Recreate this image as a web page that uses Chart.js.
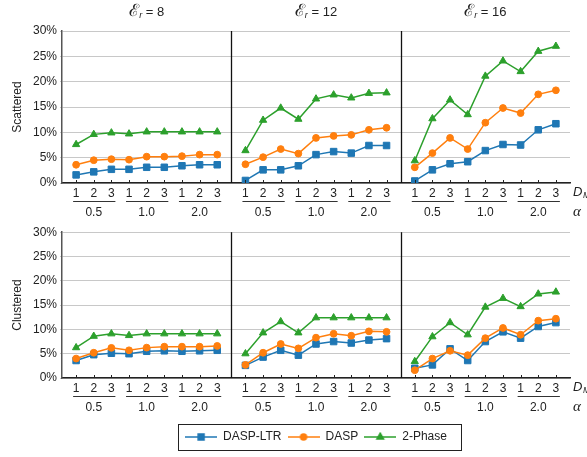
<!DOCTYPE html>
<html><head><meta charset="utf-8">
<script src="https://cdn.jsdelivr.net/npm/chart.js@4"></script>
<style>
html,body{margin:0;padding:0;background:#fff;}
#wrap{position:relative;width:587px;height:457px;overflow:hidden;}
.box{position:absolute;left:0;width:587px;}
</style></head><body>
<div id="wrap">
<div class="box" style="top:0;height:222px"><canvas id="cTop"></canvas></div>
<div class="box" style="top:222px;height:235px"><canvas id="cBot"></canvas></div>
</div>
<script>
// ---------- data ----------
const ER = [8, 12, 16];
const ALPHA = ['0.5', '1.0', '2.0'];
const DM = ['1', '2', '3'];
const Y_TICKS = [0, 5, 10, 15, 20, 25, 30];
const SERIES = ['DASP-LTR', 'DASP', '2-Phase'];
const ROWS = ['Scattered', 'Clustered'];

// values in %, one inner array per E_r panel (8, 12, 16), 9 points each (alpha x D_M)
const scatteredLTR = [
  [1.6, 2.2, 2.7, 2.7, 3.1, 3.1, 3.4, 3.6, 3.6],
  [0.5, 2.6, 2.6, 3.4, 5.6, 6.2, 5.9, 7.4, 7.4],
  [0.4, 2.6, 3.8, 4.2, 6.4, 7.6, 7.5, 10.5, 11.7]
];
const scatteredDASP = [
  [3.6, 4.5, 4.7, 4.6, 5.2, 5.2, 5.3, 5.6, 5.6],
  [3.7, 5.1, 6.7, 5.8, 8.9, 9.3, 9.5, 10.5, 10.9],
  [3.1, 5.9, 8.9, 6.7, 11.9, 14.8, 13.8, 17.5, 18.3]
];
const scattered2P = [
  [7.6, 9.6, 9.9, 9.7, 10.1, 10.1, 10.1, 10.1, 10.1],
  [6.4, 12.4, 14.8, 12.6, 16.6, 17.4, 16.8, 17.7, 17.8],
  [4.4, 12.7, 16.4, 13.5, 21.1, 24.1, 22.0, 26.0, 27.0]
];
const clusteredLTR = [
  [3.6, 4.8, 5.1, 5.0, 5.5, 5.6, 5.5, 5.6, 5.7],
  [2.6, 4.3, 5.7, 4.7, 7.0, 7.5, 7.2, 7.8, 8.1],
  [2.0, 2.7, 6.0, 3.6, 7.5, 9.5, 8.2, 10.6, 11.4]
];
const clusteredDASP = [
  [4.0, 5.2, 6.2, 5.7, 6.25, 6.45, 6.45, 6.45, 6.6],
  [2.7, 5.2, 7.0, 6.1, 8.3, 9.1, 8.7, 9.6, 9.5],
  [1.6, 4.0, 5.6, 4.7, 8.2, 10.3, 8.9, 11.8, 12.2]
];
const clustered2P = [
  [6.25, 8.6, 9.1, 8.75, 9.1, 9.1, 9.1, 9.1, 9.1],
  [5.0, 9.3, 11.6, 9.3, 12.4, 12.4, 12.4, 12.4, 12.4],
  [3.4, 8.5, 11.4, 8.9, 14.6, 16.4, 14.7, 17.3, 17.7]
];

// ---------- styling / layout ----------
const COLORS = ['#1f77b4', '#ff7f0e', '#2ca02c'];
const STYLES = ['rect', 'circle', 'triangle'];
const RADII = [4.6, 3.4, 4.2];
const FONT = "'Liberation Sans', Arial, 'DejaVu Sans', sans-serif";
const STEP = 9.6;          // panel width in x-units
const NPTS = ALPHA.length * DM.length;
const XPOS = [];
for (let k = 0; k < ER.length; k++) for (let i = 0; i < NPTS; i++) XPOS.push(k * STEP + i);

function toPoints(panels) {
  const pts = [];
  panels.forEach((vals, k) => {
    vals.forEach((v, i) => pts.push({ x: k * STEP + i, y: v }));
    if (k < panels.length - 1) pts.push({ x: k * STEP + 8.8, y: null });
  });
  return pts;
}

function makeDatasets(arrs) {
  return arrs.map((a, i) => ({
    label: SERIES[i],
    data: toPoints(a),
    borderColor: COLORS[i],
    backgroundColor: COLORS[i],
    pointStyle: STYLES[i],
    pointRadius: RADII[i],
    pointHoverRadius: RADII[i],
    pointBorderWidth: 1,
    borderWidth: 1.5,
    spanGaps: false,
    tension: 0,
    order: 2 - i
  }));
}

function legendImage(i) {
  const c = document.createElement('canvas');
  c.width = 32; c.height = 10;
  const g = c.getContext('2d');
  g.strokeStyle = COLORS[i]; g.fillStyle = COLORS[i]; g.lineWidth = 1.5;
  g.beginPath(); g.moveTo(0, 5); g.lineTo(32, 5); g.stroke();
  Chart.helpers.drawPoint(g, { pointStyle: STYLES[i], radius: RADII[i] - 0.4, borderWidth: 1 }, 16, 5);
  g.fill();
  return c;
}

const panelPlugin = {
  id: 'panels',
  beforeDatasetsDraw(chart, args, opts) {
    const { ctx, chartArea: a, scales: { x } } = chart;
    ctx.save();
    ctx.strokeStyle = '#111'; ctx.lineWidth = 1.3;
    for (let k = 1; k < ER.length; k++) {
      const px = Math.round(x.getPixelForValue(k * STEP - 0.8)) + 0.5;
      ctx.beginPath(); ctx.moveTo(px, a.top); ctx.lineTo(px, a.bottom); ctx.stroke();
    }
    ctx.restore();
  },
  afterDraw(chart, args, opts) {
    const { ctx, chartArea: a, scales: { x } } = chart;
    ctx.save();
    // inner tick marks
    ctx.strokeStyle = '#222'; ctx.lineWidth = 1;
    XPOS.forEach(v => {
      const px = Math.round(x.getPixelForValue(v)) + 0.5;
      ctx.beginPath(); ctx.moveTo(px, a.bottom); ctx.lineTo(px, a.bottom - 3); ctx.stroke();
    });
    // alpha groups
    ctx.fillStyle = '#222';
    ctx.font = '12px ' + FONT;
    ctx.textAlign = 'center'; ctx.textBaseline = 'middle';
    for (let k = 0; k < ER.length; k++) {
      ALPHA.forEach((al, j) => {
        const x0 = x.getPixelForValue(k * STEP + j * 3) - 3;
        const x1 = x.getPixelForValue(k * STEP + j * 3 + 2) + 4;
        ctx.strokeStyle = '#333'; ctx.lineWidth = 1.2;
        ctx.beginPath(); ctx.moveTo(x0, a.bottom + 18.5); ctx.lineTo(x1, a.bottom + 18.5); ctx.stroke();
        ctx.fillText(al, (x0 + x1) / 2 - 0.5, a.bottom + 29.5);
      });
    }
    // D_M and alpha axis names
    ctx.textAlign = 'left';
    ctx.font = 'italic 13px ' + FONT;
    ctx.fillText('D', 573, a.bottom + 9);
    ctx.font = 'italic 9px ' + FONT;
    ctx.fillText('M', 583, a.bottom + 12);
    ctx.font = 'italic 15px "Liberation Serif", "DejaVu Serif", serif';
    ctx.fillText('\u03B1', 573, a.bottom + 29);
    // row label
    ctx.save();
    ctx.translate(18, (a.top + a.bottom) / 2);
    ctx.rotate(-Math.PI / 2);
    ctx.textAlign = 'center';
    ctx.font = '12px ' + FONT;
    ctx.fillText(opts.rowLabel, 0, 0);
    ctx.restore();
    // panel titles
    if (opts.titles) {
      ctx.textBaseline = 'alphabetic';
      ER.forEach((er, k) => {
        const cx = (x.getPixelForValue(k * STEP - 0.8) + x.getPixelForValue(k * STEP + 8.8)) / 2;
        const f1 = '17px "DejaVu Serif", serif', f2 = 'italic 9px ' + FONT, f3 = '13px ' + FONT;
        const t3 = ' = ' + er;
        ctx.font = f1; const w1 = ctx.measureText('\u2130').width;
        ctx.font = f2; const w2 = ctx.measureText('r').width;
        ctx.font = f3; const w3 = ctx.measureText(t3).width;
        let sx = cx - (w1 + w2 + w3) / 2;
        ctx.font = f1; ctx.fillText('\u2130', sx, 16); sx += w1;
        ctx.font = f2; ctx.fillText('r', sx, 18); sx += w2;
        ctx.font = f3; ctx.fillText(t3, sx, 16);
      });
    }
    // legend frame
    if (opts.legendFrame && chart.legend && chart.legend.legendHitBoxes && chart.legend.legendHitBoxes.length) {
      const hb = chart.legend.legendHitBoxes;
      const l = hb[0].left - 7, r = hb[hb.length - 1].left + hb[hb.length - 1].width + 14;
      const cy = hb[0].top + hb[0].height / 2;
      ctx.strokeStyle = '#222'; ctx.lineWidth = 1;
      ctx.strokeRect(Math.round(l) + 0.5, Math.round(cy - 13) + 0.5, Math.round(r - l), 26);
    }
    ctx.restore();
  }
};

function makeChart(id, arrs, row, isBottom) {
  return new Chart(document.getElementById(id), {
    type: 'line',
    data: { datasets: makeDatasets(arrs) },
    plugins: [panelPlugin],
    options: {
      responsive: true,
      maintainAspectRatio: false,
      animation: false,
      events: [],
      layout: { padding: { left: 0, right: 17, top: isBottom ? 8 : 31, bottom: isBottom ? 4 : 0 } },
      plugins: {
        tooltip: { enabled: false },
        panels: { rowLabel: ROWS[row], titles: !isBottom, legendFrame: isBottom },
        legend: {
          display: isBottom,
          position: 'bottom',
          fullSize: false,
          labels: {
            usePointStyle: true,
            pointStyleWidth: 32,
            boxHeight: 12,
            padding: 6,
            color: '#222',
            font: { family: FONT, size: 12 },
            generateLabels: (ch) => ch.data.datasets.map((ds, i) => ({
              text: ds.label, pointStyle: legendImage(i), fillStyle: 'rgba(0,0,0,0)',
              strokeStyle: 'rgba(0,0,0,0)', lineWidth: 0, hidden: false, datasetIndex: i, fontColor: '#222'
            }))
          }
        }
      },
      scales: {
        x: {
          type: 'linear', min: -0.8, max: ER.length * STEP - 0.8,
          afterBuildTicks: s => { s.ticks = XPOS.map(v => ({ value: v })); },
          afterFit: s => { s.height = isBottom ? 47 : 39; },
          ticks: {
            autoSkip: false, maxRotation: 0, minRotation: 0, padding: 3,
            color: '#222', font: { family: FONT, size: 12 },
            callback: (v, i) => DM[i % DM.length]
          },
          grid: { display: false, drawTicks: false },
          border: { display: true, color: '#222', width: 1.5 }
        },
        y: {
          min: 0, max: 30,
          afterBuildTicks: s => { s.ticks = Y_TICKS.map(v => ({ value: v })); },
          afterFit: s => { s.width = 62; },
          ticks: { padding: 3, color: '#222', font: { family: FONT, size: 12 }, callback: v => v + '%' },
          grid: { color: '#c8c8c8', lineWidth: 1, tickLength: 2, drawTicks: true },
          border: { color: '#555', width: 1.5 }
        }
      }
    }
  });
}

makeChart('cTop', [scatteredLTR, scatteredDASP, scattered2P], 0, false);
makeChart('cBot', [clusteredLTR, clusteredDASP, clustered2P], 1, true);
</script>
</body></html>
